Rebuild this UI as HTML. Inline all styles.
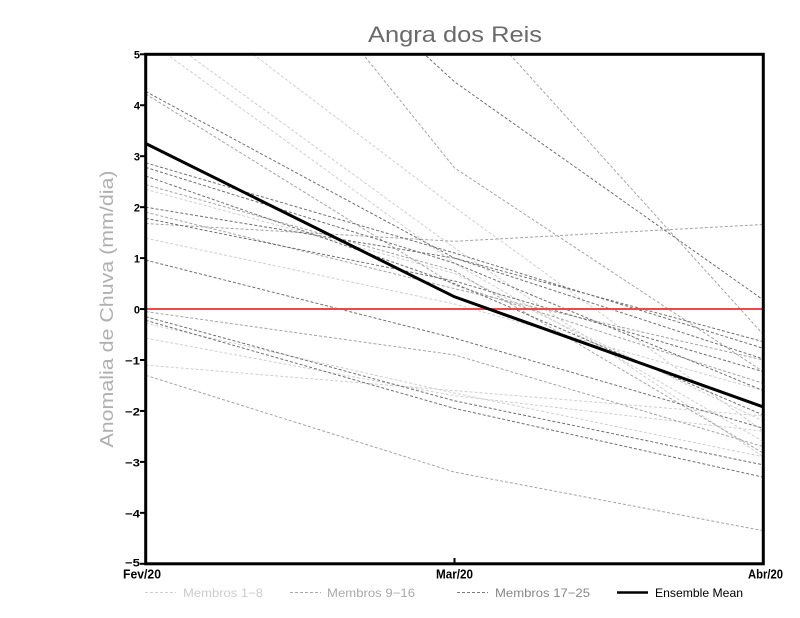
<!DOCTYPE html>
<html><head><meta charset="utf-8"><style>
html,body{margin:0;padding:0;background:#fff;}
svg{display:block;}
text{font-family:"Liberation Sans",sans-serif;}
</style></head><body>
<svg width="800" height="618" viewBox="0 0 800 618" xmlns="http://www.w3.org/2000/svg">
<rect x="0" y="0" width="800" height="618" fill="#fff"/>
<defs><clipPath id="c"><rect x="145.7" y="54.3" width="617.6" height="509.5"/></clipPath></defs>
<text x="368" y="42" font-size="22" fill="#6a6a6a" textLength="174" lengthAdjust="spacingAndGlyphs">Angra dos Reis</text>
<text transform="translate(113,309) rotate(-90)" text-anchor="middle" font-size="18" fill="#b0b0b0" textLength="277" lengthAdjust="spacingAndGlyphs">Anomalia de Chuva (mm/dia)</text>
<g clip-path="url(#c)" fill="none" stroke-width="1" stroke-dasharray="3,2">
<g stroke="#cfcfcf">
<polyline points="145.7,39.0 454.5,263.2 763.3,441.5"/>
<polyline points="145.7,23.7 454.5,247.9 763.3,456.8"/>
<polyline points="145.7,-27.2 454.5,207.2 763.3,431.3"/>
<polyline points="145.7,238.2 454.5,304.0 763.3,390.6"/>
<polyline points="145.7,189.3 454.5,273.4 763.3,421.1"/>
<polyline points="145.7,323.3 454.5,393.1 763.3,456.8"/>
<polyline points="145.7,338.1 454.5,395.7 763.3,431.3"/>
<polyline points="145.7,365.1 454.5,390.6 763.3,416.0"/>
</g>
<g stroke="#a4a4a4">
<polyline points="145.7,94.0 454.5,285.1 763.3,383.4"/>
<polyline points="145.7,223.5 454.5,241.3 763.3,224.5"/>
<polyline points="145.7,212.2 454.5,288.7 763.3,360.0"/>
<polyline points="145.7,375.3 454.5,472.1 763.3,530.7"/>
<polyline points="145.7,-215.7 454.5,167.9 763.3,371.7"/>
<polyline points="145.7,-302.4 454.5,-6.8 763.3,334.5"/>
<polyline points="145.7,184.7 454.5,270.8 763.3,453.2"/>
<polyline points="145.7,311.6 454.5,354.9 763.3,446.6"/>
</g>
<g stroke="#707070">
<polyline points="145.7,91.5 454.5,258.1 763.3,359.0"/>
<polyline points="145.7,-200.5 454.5,81.8 763.3,299.9"/>
<polyline points="145.7,162.8 454.5,253.0 763.3,348.3"/>
<polyline points="145.7,167.4 454.5,263.2 763.3,390.6"/>
<polyline points="145.7,176.0 454.5,283.6 763.3,415.0"/>
<polyline points="145.7,207.2 454.5,258.1 763.3,341.7"/>
<polyline points="145.7,218.3 454.5,281.0 763.3,371.7"/>
<polyline points="145.7,260.1 454.5,338.1 763.3,428.3"/>
<polyline points="145.7,316.7 454.5,400.8 763.3,464.9"/>
<polyline points="145.7,320.3 454.5,408.4 763.3,477.2"/>
</g>
</g>
<line x1="145.7" y1="309.05" x2="763.3" y2="309.05" stroke="#f04848" stroke-width="2"/>
<polyline clip-path="url(#c)" points="145.7,143.5 454.5,296.8 763.3,406.9" fill="none" stroke="#000" stroke-width="3"/>
<rect x="145.7" y="54.3" width="617.6" height="509.5" fill="none" stroke="#000" stroke-width="3"/>
<g stroke="#000" stroke-width="2">
<line x1="140" y1="54.3" x2="146" y2="54.3"/>
<line x1="140" y1="105.25" x2="146" y2="105.25"/>
<line x1="140" y1="156.2" x2="146" y2="156.2"/>
<line x1="140" y1="207.15" x2="146" y2="207.15"/>
<line x1="140" y1="258.1" x2="146" y2="258.1"/>
<line x1="140" y1="309.05" x2="146" y2="309.05"/>
<line x1="140" y1="360.0" x2="146" y2="360.0"/>
<line x1="140" y1="410.95" x2="146" y2="410.95"/>
<line x1="140" y1="461.9" x2="146" y2="461.9"/>
<line x1="140" y1="512.85" x2="146" y2="512.85"/>
<line x1="140" y1="563.8" x2="146" y2="563.8"/>
<line x1="454.5" y1="563" x2="454.5" y2="558"/>
</g>
<g font-size="11" font-weight="bold" fill="#000" text-anchor="end">
<text x="140" y="58.5">5</text>
<text x="140" y="109.5">4</text>
<text x="140" y="160.5">3</text>
<text x="140" y="211.5">2</text>
<text x="140" y="262.5">1</text>
<text x="140" y="313.5">0</text>
<text x="140" y="364.5" textLength="15" lengthAdjust="spacingAndGlyphs">−1</text>
<text x="140" y="415.5" textLength="15" lengthAdjust="spacingAndGlyphs">−2</text>
<text x="140" y="466.5" textLength="15" lengthAdjust="spacingAndGlyphs">−3</text>
<text x="140" y="517.5" textLength="15" lengthAdjust="spacingAndGlyphs">−4</text>
<text x="140" y="566.5" textLength="15" lengthAdjust="spacingAndGlyphs">−5</text>
</g>
<g font-size="12.5" font-weight="bold" fill="#000">
<text x="123" y="578.5" textLength="38" lengthAdjust="spacingAndGlyphs">Fev/20</text>
<text x="436" y="578.5" textLength="37" lengthAdjust="spacingAndGlyphs">Mar/20</text>
<text x="748" y="578.5" textLength="35" lengthAdjust="spacingAndGlyphs">Abr/20</text>
</g>
<g stroke-width="1" stroke-dasharray="3,2">
<line x1="145" y1="592.5" x2="176" y2="592.5" stroke="#cfcfcf"/>
<line x1="290" y1="592.5" x2="321" y2="592.5" stroke="#a8a8a8"/>
<line x1="457" y1="592.5" x2="488" y2="592.5" stroke="#7a7a7a"/>
</g>
<line x1="617" y1="592.5" x2="648" y2="592.5" stroke="#000" stroke-width="2.5"/>
<g font-size="12">
<text x="183" y="597" fill="#cccccc" textLength="80" lengthAdjust="spacingAndGlyphs">Membros 1−8</text>
<text x="327" y="597" fill="#aaaaaa" textLength="88" lengthAdjust="spacingAndGlyphs">Membros 9−16</text>
<text x="495" y="597" fill="#888888" textLength="95" lengthAdjust="spacingAndGlyphs">Membros 17−25</text>
<text x="655" y="597" fill="#000" textLength="88" lengthAdjust="spacingAndGlyphs">Ensemble Mean</text>
</g>
</svg>
</body></html>
